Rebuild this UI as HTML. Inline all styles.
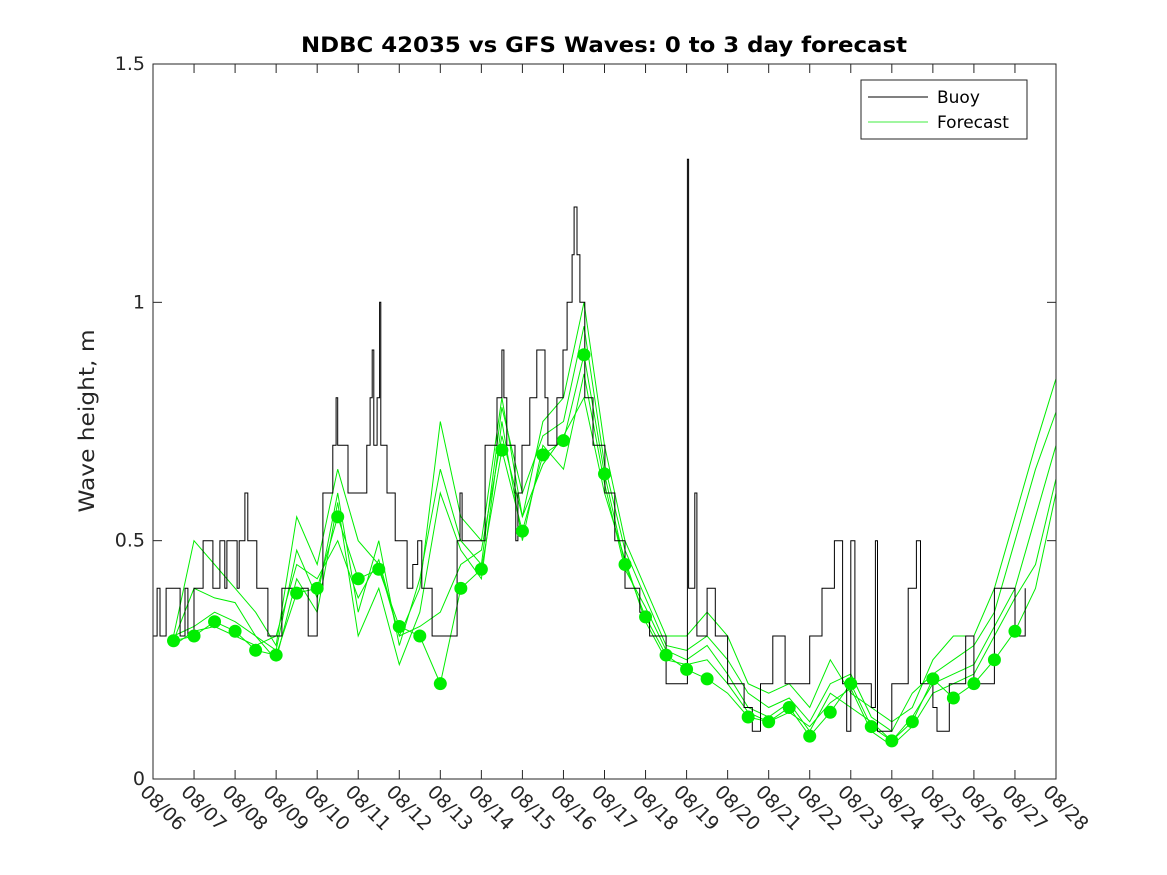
<!DOCTYPE html>
<html><head><meta charset="utf-8"><style>
body{margin:0;background:#fff;}
svg{display:block;font-family:"DejaVu Sans","Liberation Sans",sans-serif;}
</style></head><body>
<svg id="chart" width="1167" height="875">
<rect x="0" y="0" width="1167" height="875" fill="#fff"/>
<text x="604" y="52" text-anchor="middle" font-size="21" font-weight="bold" fill="#000" textLength="606" lengthAdjust="spacingAndGlyphs">NDBC 42035 vs GFS Waves: 0 to 3 day forecast</text>
<text transform="translate(94,421) rotate(-90)" text-anchor="middle" font-size="21" fill="#262626" textLength="183" lengthAdjust="spacingAndGlyphs">Wave height, m</text>
<g id="plot"></g>
<g id="axes"></g>
<g>
<rect x="861" y="80" width="166" height="59" fill="#fff" stroke="#262626" stroke-width="1"/>
<line x1="868" y1="97" x2="928" y2="97" stroke="#000" stroke-width="1"/>
<text x="937" y="103" font-size="17" fill="#000">Buoy</text>
<line x1="868" y1="122" x2="928" y2="122" stroke="#00e600" stroke-width="0.7"/>
<text x="937" y="128" font-size="17" fill="#000">Forecast</text>
</g>
</svg>
<script>
// x: days since 08/06 ; y: wave height (m)
const xTickLabels=["08/06","08/07","08/08","08/09","08/10","08/11","08/12","08/13","08/14","08/15","08/16","08/17","08/18","08/19","08/20","08/21","08/22","08/23","08/24","08/25","08/26","08/27","08/28"];
const yTicks=[0,0.5,1,1.5];
const yTickLabels=["0","0.5","1","1.5"];
const buoyTimes=[0,0.1,0.17,0.32,0.66,0.78,0.85,1.0,1.22,1.46,1.63,1.75,1.8,2.05,2.1,2.24,2.31,2.53,2.8,3.14,3.78,4.0,4.14,4.38,4.46,4.5,4.75,5.21,5.29,5.34,5.38,5.46,5.52,5.55,5.7,5.9,6.19,6.33,6.45,6.55,6.8,7.41,7.48,7.53,8.09,8.38,8.5,8.55,8.62,8.82,8.84,8.89,8.99,9.18,9.35,9.55,9.62,9.84,9.99,10.09,10.21,10.26,10.33,10.4,10.52,10.72,11.01,11.25,11.5,11.86,12.1,12.5,13.02,13.05,13.2,13.25,13.5,13.7,14.0,14.4,14.6,14.8,15.1,15.4,16.0,16.3,16.6,16.8,16.9,17.0,17.1,17.5,17.6,17.65,18.0,18.4,18.6,18.7,19.0,19.1,19.4,19.8,20.0,20.5,21.0,21.25];
const buoyValues=[0.3,0.4,0.3,0.4,0.3,0.4,0.3,0.4,0.5,0.4,0.5,0.4,0.5,0.4,0.5,0.6,0.5,0.4,0.3,0.4,0.3,0.4,0.6,0.7,0.8,0.7,0.6,0.7,0.8,0.9,0.7,0.8,1.0,0.7,0.6,0.5,0.4,0.45,0.5,0.4,0.3,0.5,0.6,0.5,0.7,0.8,0.9,0.8,0.7,0.6,0.5,0.6,0.7,0.8,0.9,0.8,0.7,0.8,0.9,1.0,1.1,1.2,1.1,1.0,0.8,0.7,0.6,0.5,0.4,0.35,0.3,0.2,1.3,0.4,0.6,0.3,0.4,0.3,0.2,0.15,0.1,0.2,0.3,0.2,0.3,0.4,0.5,0.2,0.1,0.5,0.2,0.15,0.5,0.1,0.2,0.4,0.5,0.2,0.15,0.1,0.2,0.3,0.2,0.4,0.3,0.4];
// forecast at 12h steps starting day 0.5
const fcStart=0.5, fcStep=0.5;
const fcBase=[0.29,0.30,0.33,0.31,0.27,0.26,0.39,0.40,0.55,0.42,0.44,0.32,0.30,0.20,0.40,0.44,0.69,0.52,0.68,0.71,0.89,0.64,0.45,0.34,0.26,0.23,0.21,0.18,0.13,0.12,0.15,0.09,0.14,0.20,0.11,0.08,0.12,0.21,0.17,0.20,0.25,0.31,0.40,0.60];
const fcMember1=[0.30,0.50,0.45,0.40,0.35,0.28,0.55,0.45,0.65,0.50,0.45,0.30,0.40,0.75,0.55,0.50,0.80,0.55,0.75,0.80,1.00,0.70,0.50,0.40,0.30,0.30,0.35,0.30,0.20,0.18,0.20,0.15,0.25,0.18,0.15,0.12,0.15,0.25,0.30,0.30,0.40,0.55,0.70,0.84];
const fcMember2=[0.29,0.40,0.38,0.37,0.30,0.27,0.48,0.38,0.60,0.35,0.50,0.28,0.42,0.65,0.50,0.45,0.78,0.60,0.72,0.75,0.95,0.66,0.48,0.38,0.28,0.27,0.30,0.25,0.18,0.15,0.17,0.12,0.20,0.22,0.13,0.10,0.18,0.22,0.25,0.28,0.35,0.50,0.65,0.77];
const fcMember3=[0.30,0.32,0.35,0.33,0.30,0.25,0.42,0.35,0.58,0.30,0.40,0.24,0.35,0.60,0.48,0.42,0.75,0.50,0.70,0.65,0.85,0.62,0.44,0.36,0.27,0.25,0.28,0.22,0.15,0.13,0.16,0.10,0.18,0.15,0.12,0.08,0.13,0.20,0.22,0.24,0.32,0.40,0.55,0.70];
const fcMember4=[0.28,0.31,0.32,0.30,0.28,0.30,0.45,0.42,0.50,0.38,0.46,0.30,0.32,0.35,0.45,0.48,0.72,0.55,0.66,0.72,0.80,0.60,0.46,0.33,0.25,0.24,0.25,0.20,0.14,0.12,0.14,0.11,0.16,0.19,0.10,0.07,0.11,0.18,0.20,0.22,0.30,0.38,0.45,0.63];
const dotValues=[0.29,0.30,0.33,0.31,0.27,0.26,0.39,0.40,0.55,0.42,0.44,0.32,0.30,0.20,0.40,0.44,0.69,0.52,0.68,0.71,0.89,0.64,0.45,0.34,0.26,0.23,0.21,null,0.13,0.12,0.15,0.09,0.14,0.20,0.11,0.08,0.12,0.21,0.17,0.20,0.25,0.31];

const X0=153,X1=1056,Y0=779,Y1=64,XMAX=22,YMAX=1.5;
const xs=d=>X0+(X1-X0)*d/XMAX;
const ys=v=>Y0-(Y0-Y1)*v/YMAX;
const NS="http://www.w3.org/2000/svg";
const plot=document.getElementById('plot'), axes=document.getElementById('axes');
function mk(tag,attrs,parent){const e=document.createElementNS(NS,tag);for(const k in attrs)e.setAttribute(k,attrs[k]);parent.appendChild(e);return e;}

const members=[fcMember1,fcMember2,fcMember3,fcMember4,fcBase];
members.forEach((arr,mi)=>{
  const d=arr.map((v,i)=>(i?'L':'M')+xs(fcStart+i*fcStep).toFixed(1)+','+ys(v).toFixed(1)).join('');
  const p=mk('path',{d:d,fill:'none',stroke:'#00ee00','stroke-width':1},plot);
  
  
});
let bd='';
buoyTimes.forEach((t,i)=>{
  if(i===0)bd='M'+xs(t).toFixed(1)+','+ys(buoyValues[0]).toFixed(1);
  else bd+='H'+xs(t).toFixed(1)+'V'+ys(buoyValues[i]).toFixed(1);
});
const bp=mk('path',{d:bd,fill:'none',stroke:'#000','stroke-width':1},plot);


dotValues.forEach((v,i)=>{
  if(v===null)return;
  const c=mk('circle',{cx:xs(fcStart+i*fcStep),cy:ys(v),r:6.5,fill:'#00ee00'},plot);
  
  
});
const box=mk('rect',{x:X0,y:Y1,width:X1-X0,height:Y0-Y1,fill:'none',stroke:'#262626','stroke-width':1},axes);


xTickLabels.forEach((lab,i)=>{
  const x=xs(i);
  mk('line',{x1:x,y1:Y0,x2:x,y2:Y0-9,stroke:'#262626'},axes);
  mk('line',{x1:x,y1:Y1,x2:x,y2:Y1+9,stroke:'#262626'},axes);
  const t=mk('text',{transform:'translate('+(x-14)+',793) rotate(45)','font-size':19,fill:'#262626'},axes);
  t.textContent=lab;
  
  
});
yTicks.forEach((v,i)=>{
  const y=ys(v);
  mk('line',{x1:X0,y1:y,x2:X0+9,y2:y,stroke:'#262626'},axes);
  mk('line',{x1:X1,y1:y,x2:X1-9,y2:y,stroke:'#262626'},axes);
  const t=mk('text',{x:X0-8,y:y+6,'text-anchor':'end','font-size':19,fill:'#262626'},axes);
  t.textContent=yTickLabels[i];
  
  
});
</script>
</body></html>
